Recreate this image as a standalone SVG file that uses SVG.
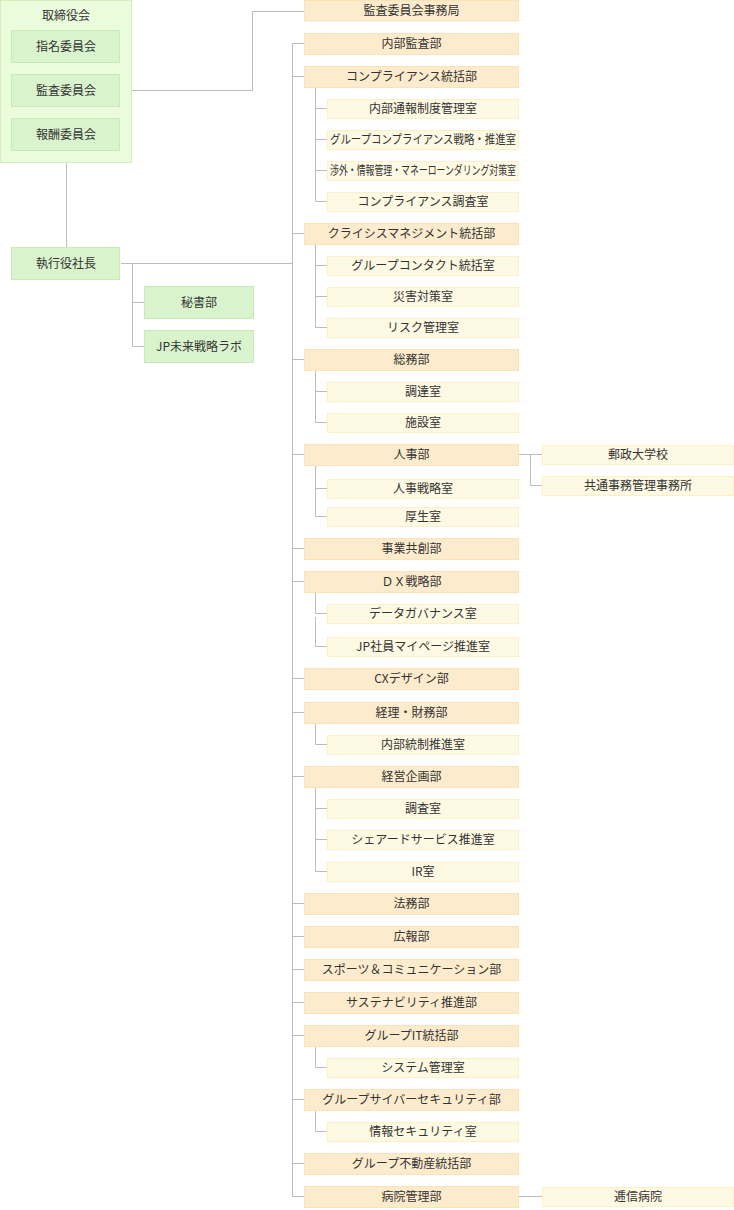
<svg xmlns="http://www.w3.org/2000/svg" width="734" height="1210" viewBox="0 0 734 1210">
<style>
text{font-family:"Noto Sans CJK JP","Noto Sans",sans-serif;font-size:12px;fill:#333;text-anchor:middle}
.outer{fill:#eafcdb;stroke:#d3efbf}
.g{fill:#d9f3cd;stroke:#c8eab6}
.m{fill:#fdebcd;stroke:#fce2b6}
.s{fill:#fef9e3;stroke:#fdefc8}
.c path{fill:none;stroke:#bdbdbd;stroke-width:1}
</style>
<rect width="734" height="1210" fill="#fff"/>
<g class="c" id="connectors">
<path d="M121,90.5H252.5V11.5H304"/>
<path d="M66.5,163V247"/>
<path d="M121,263.5H292.5"/>
<path d="M132.5,263.5V346.5M132.5,302.5H144M132.5,346.5H144"/>
<path d="M292.5,43.5V1197"/>
<path d="M292.5,43.5H304M292.5,76.5H304M292.5,233.5H304M292.5,359.5H304M292.5,454.5H304M292.5,548.5H304M292.5,581.5H304M292.5,678.5H304M292.5,712.5H304M292.5,776.5H304M292.5,903.5H304M292.5,936.5H304M292.5,969.5H304M292.5,1002.5H304M292.5,1035.5H304M292.5,1099.5H304M292.5,1163.5H304M292.5,1196.5H304"/>
<path d="M315.5,87V201.5M315.5,108.5H327M315.5,139.5H327M315.5,170.5H327M315.5,201.5H327"/>
<path d="M315.5,244V327.5M315.5,265.5H327M315.5,296.5H327M315.5,327.5H327"/>
<path d="M315.5,370V422.5M315.5,391.5H327M315.5,422.5H327"/>
<path d="M315.5,465V516.5M315.5,488.5H327M315.5,516.5H327"/>
<path d="M315.5,592V613.5M315.5,617V646.5M315.5,613.5H327M315.5,646.5H327"/>
<path d="M315.5,723V744.5H327"/>
<path d="M315.5,787V871.5M315.5,808.5H327M315.5,839.5H327M315.5,871.5H327"/>
<path d="M315.5,1046V1067.5H327"/>
<path d="M315.5,1110V1131.5H327"/>
<path d="M519,454.5H530.5V485.5H542M530.5,454.5H542"/>
<path d="M519,1196.5H542"/>
</g>
<g id="board">
<rect class="outer" x="0.5" y="0.5" width="131" height="162"/>
<text x="66" y="20">取締役会</text>
</g>
<g id="nominating"><rect class="g" x="11.5" y="30.5" width="108" height="32"/><text x="66" y="51">指名委員会</text></g>
<g id="audit"><rect class="g" x="11.5" y="74.5" width="108" height="32"/><text x="66" y="95">監査委員会</text></g>
<g id="compensation"><rect class="g" x="11.5" y="118.5" width="108" height="32"/><text x="66" y="139">報酬委員会</text></g>
<g id="ceo"><rect class="g" x="11.5" y="247.5" width="108" height="32"/><text x="66" y="268">執行役社長</text></g>
<g id="secretary"><rect class="g" x="144.5" y="286.5" width="109" height="32"/><text x="199" y="307">秘書部</text></g>
<g id="jplab"><rect class="g" x="144.5" y="330.5" width="109" height="32"/><text x="199" y="351">JP未来戦略ラボ</text></g>

<g id="m-audit-office"><rect class="m" x="304.5" y="0.5" width="214" height="20.5"/><text x="411.5" y="15">監査委員会事務局</text></g>
<g id="m-internal-audit"><rect class="m" x="304.5" y="33.5" width="214" height="21"/><text x="411.5" y="48">内部監査部</text></g>
<g id="m-compliance"><rect class="m" x="304.5" y="66.5" width="214" height="21"/><text x="411.5" y="81">コンプライアンス統括部</text></g>
<g id="s-whistle"><rect class="s" x="327.5" y="99.5" width="191" height="19"/><text x="423" y="113">内部通報制度管理室</text></g>
<g id="s-gcomp"><rect class="s" x="327.5" y="130.5" width="191" height="19"/><text x="423" y="144" textLength="186" lengthAdjust="spacingAndGlyphs">グループコンプライアンス戦略・推進室</text></g>
<g id="s-aml"><rect class="s" x="327.5" y="161.5" width="191" height="19"/><text x="423" y="175" textLength="186" lengthAdjust="spacingAndGlyphs">渉外・情報管理・マネーローンダリング対策室</text></g>
<g id="s-compinv"><rect class="s" x="327.5" y="192.5" width="191" height="19"/><text x="423" y="206">コンプライアンス調査室</text></g>
<g id="m-crisis"><rect class="m" x="304.5" y="223.5" width="214" height="21"/><text x="411.5" y="238">クライシスマネジメント統括部</text></g>
<g id="s-contact"><rect class="s" x="327.5" y="256.5" width="191" height="19"/><text x="423" y="270">グループコンタクト統括室</text></g>
<g id="s-disaster"><rect class="s" x="327.5" y="287.5" width="191" height="19"/><text x="423" y="301">災害対策室</text></g>
<g id="s-risk"><rect class="s" x="327.5" y="318.5" width="191" height="19"/><text x="423" y="332">リスク管理室</text></g>
<g id="m-general"><rect class="m" x="304.5" y="349.5" width="214" height="21"/><text x="411.5" y="364">総務部</text></g>
<g id="s-procure"><rect class="s" x="327.5" y="382.5" width="191" height="19"/><text x="423" y="396">調達室</text></g>
<g id="s-facility"><rect class="s" x="327.5" y="413.5" width="191" height="19"/><text x="423" y="427">施設室</text></g>
<g id="m-hr"><rect class="m" x="304.5" y="444.5" width="214" height="21"/><text x="411.5" y="459">人事部</text></g>
<g id="r-univ"><rect class="s" x="542.5" y="445.5" width="191" height="19"/><text x="638" y="459">郵政大学校</text></g>
<g id="r-common"><rect class="s" x="542.5" y="476.5" width="191" height="19"/><text x="638" y="490">共通事務管理事務所</text></g>
<g id="s-hrstrat"><rect class="s" x="327.5" y="479.5" width="191" height="19"/><text x="423" y="493">人事戦略室</text></g>
<g id="s-welfare"><rect class="s" x="327.5" y="507.5" width="191" height="19"/><text x="423" y="521">厚生室</text></g>
<g id="m-cocreate"><rect class="m" x="304.5" y="538.5" width="214" height="21"/><text x="411.5" y="553">事業共創部</text></g>
<g id="m-dx"><rect class="m" x="304.5" y="571.5" width="214" height="21"/><text x="411.5" y="586">ＤＸ戦略部</text></g>
<g id="s-datagov"><rect class="s" x="327.5" y="604.5" width="191" height="19"/><text x="423" y="618">データガバナンス室</text></g>
<g id="s-mypage"><rect class="s" x="327.5" y="637.5" width="191" height="19"/><text x="423" y="651">JP社員マイページ推進室</text></g>
<g id="m-cx"><rect class="m" x="304.5" y="668.5" width="214" height="21"/><text x="411.5" y="683">CXデザイン部</text></g>
<g id="m-finance"><rect class="m" x="304.5" y="702.5" width="214" height="21"/><text x="411.5" y="717">経理・財務部</text></g>
<g id="s-control"><rect class="s" x="327.5" y="735.5" width="191" height="19"/><text x="423" y="749">内部統制推進室</text></g>
<g id="m-planning"><rect class="m" x="304.5" y="766.5" width="214" height="21"/><text x="411.5" y="781">経営企画部</text></g>
<g id="s-research"><rect class="s" x="327.5" y="799.5" width="191" height="19"/><text x="423" y="813">調査室</text></g>
<g id="s-shared"><rect class="s" x="327.5" y="830.5" width="191" height="19"/><text x="423" y="844">シェアードサービス推進室</text></g>
<g id="s-ir"><rect class="s" x="327.5" y="862.5" width="191" height="19"/><text x="423" y="876">IR室</text></g>
<g id="m-legal"><rect class="m" x="304.5" y="893.5" width="214" height="21"/><text x="411.5" y="908">法務部</text></g>
<g id="m-pr"><rect class="m" x="304.5" y="926.5" width="214" height="21"/><text x="411.5" y="941">広報部</text></g>
<g id="m-sports"><rect class="m" x="304.5" y="959.5" width="214" height="21"/><text x="411.5" y="974">スポーツ＆コミュニケーション部</text></g>
<g id="m-sustain"><rect class="m" x="304.5" y="992.5" width="214" height="21"/><text x="411.5" y="1007">サステナビリティ推進部</text></g>
<g id="m-it"><rect class="m" x="304.5" y="1025.5" width="214" height="21"/><text x="411.5" y="1040">グループIT統括部</text></g>
<g id="s-system"><rect class="s" x="327.5" y="1058.5" width="191" height="19"/><text x="423" y="1072">システム管理室</text></g>
<g id="m-cyber"><rect class="m" x="304.5" y="1089.5" width="214" height="21"/><text x="411.5" y="1104">グループサイバーセキュリティ部</text></g>
<g id="s-infosec"><rect class="s" x="327.5" y="1122.5" width="191" height="19"/><text x="423" y="1136">情報セキュリティ室</text></g>
<g id="m-realestate"><rect class="m" x="304.5" y="1153.5" width="214" height="21"/><text x="411.5" y="1168">グループ不動産統括部</text></g>
<g id="m-hospital"><rect class="m" x="304.5" y="1186.5" width="214" height="21"/><text x="411.5" y="1201">病院管理部</text></g>
<g id="r-teishin"><rect class="s" x="542.5" y="1187.5" width="191" height="19"/><text x="638" y="1201">逓信病院</text></g>
</svg>
